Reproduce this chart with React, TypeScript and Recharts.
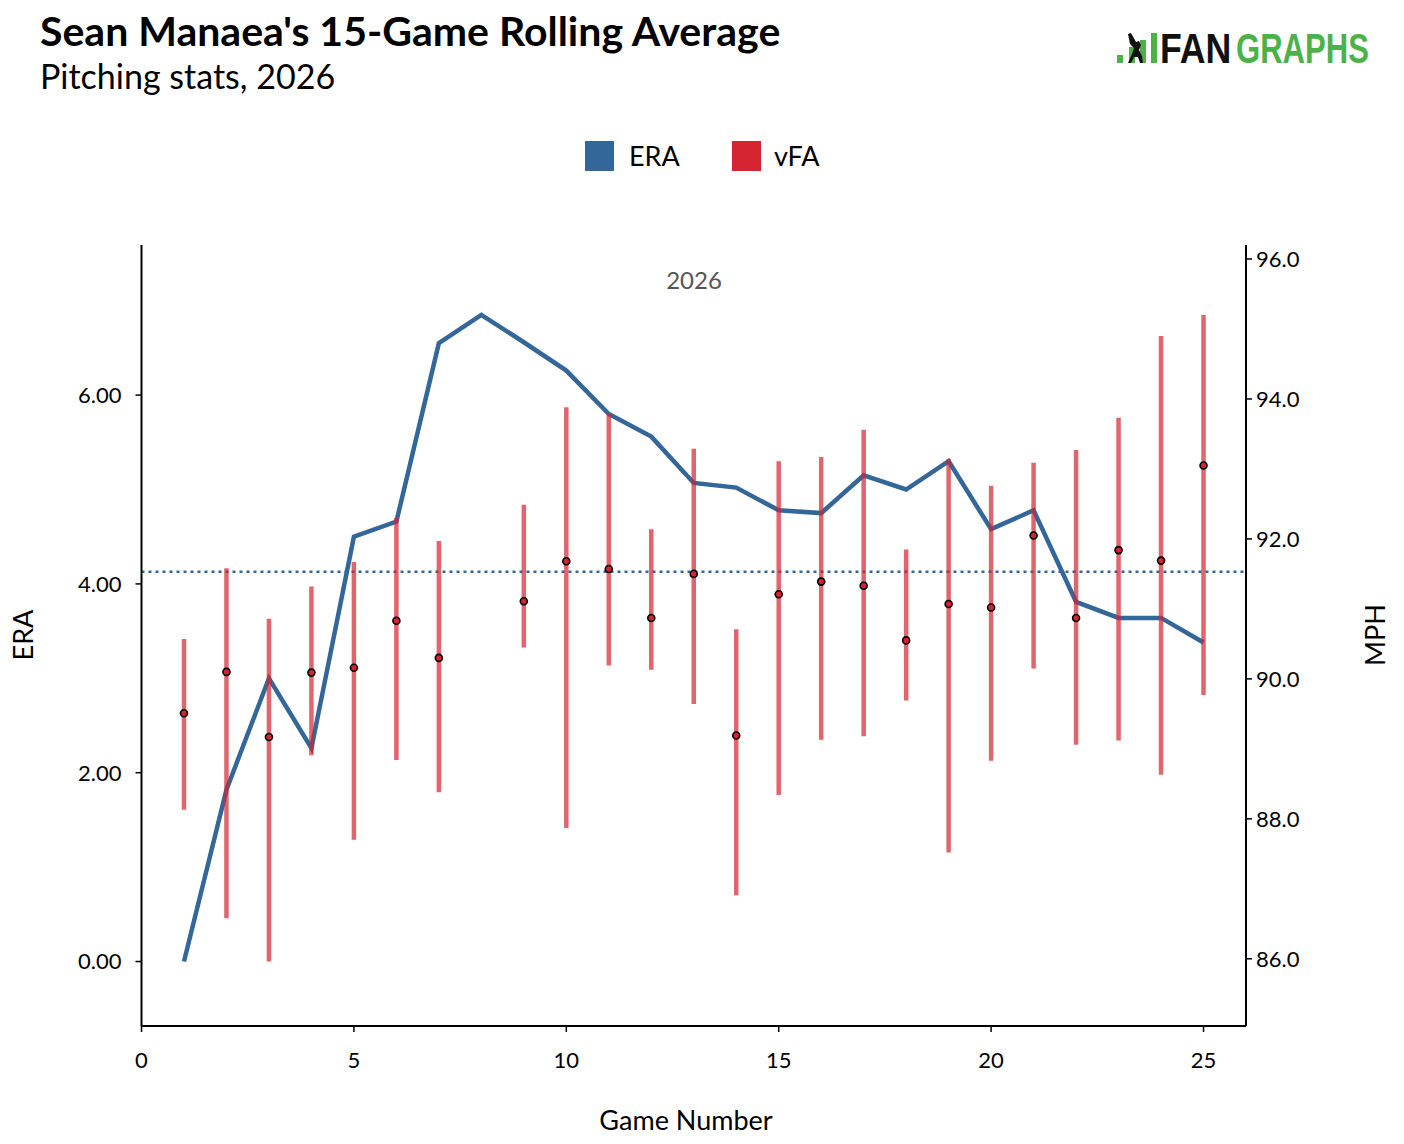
import React from "react";
import {
  ComposedChart,
  Line,
  Scatter,
  ErrorBar,
  XAxis,
  YAxis,
  ReferenceLine,
} from "recharts";

// 15-game rolling values
const games = [1, 2, 3, 4, 5, 6, 7, 8, 9, 10, 11, 12, 13, 14, 15, 16, 17, 18, 19, 20, 21, 22, 23, 24, 25];
const era = [0.0, 1.82, 3.0, 2.26, 4.5, 4.66, 6.55, 6.85, 6.56, 6.26, 5.8, 5.56, 5.07, 5.02, 4.78, 4.75, 5.15, 5.0, 5.3, 4.58, 4.78, 3.81, 3.64, 3.64, 3.38];
// fastball velocity: mean, low and high per game (game 8 has no reading)
const vfa = [89.51, 90.1, 89.17, 90.09, 90.16, 90.83, 90.3, null, 91.11, 91.68, 91.57, 90.87, 91.5, 89.19, 91.21, 91.39, 91.33, 90.55, 91.07, 91.02, 92.05, 90.87, 91.84, 91.69, 93.05];
const vfaLow = [88.13, 86.58, 85.96, 88.91, 87.7, 88.84, 88.38, null, 90.45, 87.87, 90.19, 90.13, 89.64, 86.91, 88.34, 89.13, 89.18, 89.69, 87.52, 88.83, 90.15, 89.06, 89.12, 88.63, 89.77];
const vfaHigh = [90.57, 91.58, 90.86, 91.32, 91.67, 92.3, 91.97, null, 92.49, 93.88, 93.8, 92.14, 93.29, 90.71, 93.11, 93.17, 93.56, 91.85, 93.14, 92.76, 93.09, 93.27, 93.73, 94.9, 95.2];

const leagueEra = 4.13;
const xTicks = [0, 5, 10, 15, 20, 25];
const eraTicks = [0, 2, 4, 6];
const mphTicks = [86, 88, 90, 92, 94, 96];

const BLUE = "#336699";
const RED = "#d3242f";
const FONT = "Lato, 'Open Sans', sans-serif";

const eraData = games.map((g, i) => ({ game: g, era: era[i] }));
const vfaData = games
  .map((g, i) => ({
    game: g,
    vfa: vfa[i],
    err: vfa[i] == null ? null : [vfa[i]! - vfaLow[i]!, vfaHigh[i]! - vfa[i]!],
  }))
  .filter((d) => d.vfa != null);

const tickStyle = { fontSize: 22, fill: "#000", fontFamily: FONT };

function Dot(props: any) {
  const { cx, cy } = props;
  if (cx == null || cy == null) return null;
  return <circle cx={cx} cy={cy} r={3.5} fill={RED} stroke="#000" strokeWidth={1.6} />;
}

function Logo() {
  const green = "#4cb148";
  const logoFont = "'Liberation Sans', Arial, sans-serif";
  return (
    <svg width={270} height={50} style={{ position: "absolute", left: 1110, top: 22 }} viewBox="1110 22 270 50">
      <rect x={1117} y={55} width={6} height={8} fill={green} />
      <rect x={1129} y={47} width={6} height={16} fill={green} />
      <rect x={1140} y={40} width={6} height={23} fill={green} />
      <rect x={1151} y={33} width={6} height={30} fill={green} />
      <path
        d="M1128 34 L1131 33 L1136 42 L1139 41 L1141 45 L1139 50 L1142 56 L1143 63 L1140 63 L1138 57 L1134 57 L1131 63 L1128 63 L1132 54 L1134 48 L1130 44 Z"
        fill="#111"
      />
      <text transform="translate(1160,63) scale(0.85,1)" fontFamily={logoFont} fontWeight={700} fontSize={42} fill="#111">
        FAN
      </text>
      <text transform="translate(1236,63) scale(0.74,1)" fontFamily={logoFont} fontWeight={700} fontSize={42} fill={green}>
        GRAPHS
      </text>
    </svg>
  );
}

export default function App() {
  return (
    <div style={{ position: "absolute", left: 0, top: 0, width: 1404, height: 1144, background: "#fff", fontFamily: FONT }}>
      <div style={{ position: "absolute", left: 40, top: 6, fontSize: 41, fontWeight: 700, color: "#000", whiteSpace: "nowrap" }}>
        Sean Manaea's 15-Game Rolling Average
      </div>
      <div style={{ position: "absolute", left: 40, top: 55, fontSize: 34, color: "#000", whiteSpace: "nowrap" }}>
        Pitching stats, 2026
      </div>
      <Logo />

      {/* legend */}
      <div style={{ position: "absolute", left: 585, top: 141, width: 29, height: 30, background: BLUE }} />
      <div style={{ position: "absolute", left: 629, top: 141, fontSize: 27, lineHeight: "30px" }}>ERA</div>
      <div style={{ position: "absolute", left: 732, top: 141, width: 29, height: 30, background: RED }} />
      <div style={{ position: "absolute", left: 774, top: 141, fontSize: 27, lineHeight: "30px" }}>vFA</div>

      <ComposedChart
        width={1404}
        height={1144}
        data={eraData}
        margin={{ top: 245, right: 78, bottom: 58, left: 61.5 }}
        style={{ position: "absolute", left: 0, top: 0 }}
      >
        <XAxis
          dataKey="game"
          type="number"
          domain={[0, 26]}
          ticks={xTicks}
          height={60}
          allowDataOverflow
          axisLine={{ stroke: "#000", strokeWidth: 2 }}
          tickLine={{ stroke: "#000", strokeWidth: 1.5 }}
          tickSize={6}
          tickMargin={20}
          tick={tickStyle}
        />
        <YAxis
          yAxisId="era"
          type="number"
          domain={[-0.683, 7.59]}
          ticks={eraTicks}
          width={80}
          allowDataOverflow
          tickFormatter={(v: number) => v.toFixed(2)}
          axisLine={{ stroke: "#000", strokeWidth: 2 }}
          tickLine={{ stroke: "#000", strokeWidth: 1.5 }}
          tickSize={6}
          tickMargin={14}
          tick={tickStyle}
        />
        <YAxis
          yAxisId="mph"
          orientation="right"
          type="number"
          domain={[85.04, 96.2]}
          ticks={mphTicks}
          width={80}
          allowDataOverflow
          tickFormatter={(v: number) => v.toFixed(1)}
          axisLine={{ stroke: "#000", strokeWidth: 2 }}
          tickLine={{ stroke: "#000", strokeWidth: 1.5 }}
          tickSize={6}
          tickMargin={4}
          tick={tickStyle}
        />
        <Line
          yAxisId="era"
          dataKey="era"
          type="linear"
          stroke={BLUE}
          strokeWidth={4.5}
          dot={false}
          activeDot={false}
          isAnimationActive={false}
        />
        <ReferenceLine yAxisId="era" y={leagueEra} stroke={BLUE} strokeWidth={2.5} strokeDasharray="3 4" />
        <Scatter yAxisId="mph" data={vfaData} dataKey="vfa" shape={<Dot />} isAnimationActive={false}>
          <ErrorBar dataKey="err" direction="y" width={0} stroke={RED} strokeOpacity={0.7} strokeWidth={4.5} isAnimationActive={false} />
        </Scatter>
      </ComposedChart>

      <div style={{ position: "absolute", left: 694, top: 279, transform: "translate(-50%, -50%)", fontSize: 24, color: "#555" }}>2026</div>
      <div style={{ position: "absolute", left: 22, top: 635, transform: "translate(-50%, -50%) rotate(-90deg)", fontSize: 27 }}>ERA</div>
      <div style={{ position: "absolute", left: 1374, top: 635, transform: "translate(-50%, -50%) rotate(-90deg)", fontSize: 27 }}>MPH</div>
      <div style={{ position: "absolute", left: 686, top: 1119, transform: "translate(-50%, -50%)", fontSize: 27, whiteSpace: "nowrap" }}>Game Number</div>
    </div>
  );
}
